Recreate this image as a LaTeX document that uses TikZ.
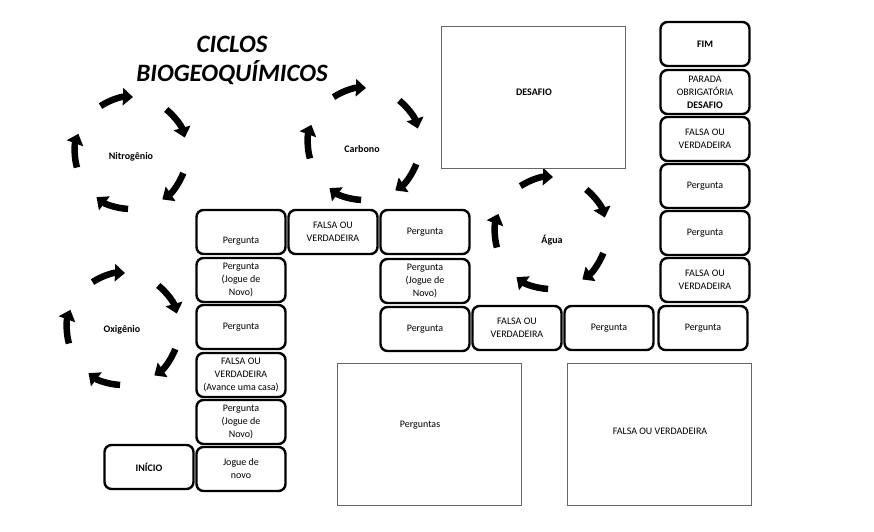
\documentclass[tikz,border=0pt]{standalone}
\usepackage{fontspec}
\setmainfont{Carlito}
\usetikzlibrary{arrows.meta,positioning}

\tikzset{
  casa/.style={draw,line width=2.4pt,rounded corners=7pt,minimum width=89pt,
    minimum height=44pt,align=center,inner sep=1pt,font=\fontsize{10}{13}\selectfont},
  quadro/.style={draw=black!60,line width=0.9pt,minimum width=184pt,minimum height=142pt},
  ciclo/.style={line width=6.5pt,-{Triangle[length=10pt,width=17pt]}},
  rotulo/.style={font=\fontsize{10}{12}\selectfont\bfseries}
}

\begin{document}
\begin{tikzpicture}[x=1pt,y=-1pt,font=\fontsize{10}{13}\selectfont]
  \useasboundingbox (0,0) rectangle (874,531);

  % titulo
  \node[align=center,font=\fontsize{25}{29}\selectfont\bfseries\itshape] (titulo) at (232,60)
    {CICLOS\\BIOGEOQUÍMICOS};

  % ciclos
  \foreach \cx/\cy/\lx/\ly/\nome/\t in {131/153/131/157/nitro/Nitrogênio,
      364/144/362/149/carb/Carbono, 551/233/552/240/agua/Água,
      123/329/122/330/oxi/Oxigênio} {
    \node[rotulo] (\nome) at (\lx,\ly) {\t};
    \foreach \a in {-123,-51,21,93,165}
      \draw[ciclo] ([shift={(\a:56)}]\cx,\cy) arc[start angle=\a,end angle=\a+35,radius=56];
  }

  % quadros
  \node[quadro] (desafio) at (533.5,97.5) {};
  \node[font=\fontsize{10}{12}\selectfont\bfseries] (desafiot) at (534,92) {DESAFIO};
  \node[quadro] (perguntas) at (429.5,434.5) {};
  \node (perguntast) at (420,425) {Perguntas};
  \node[quadro] (fv) at (659,434.5) {};
  \node (fvt) at (660,431) {FALSA OU VERDADEIRA};

  % casas do tabuleiro
  \node[casa,font=\fontsize{10}{13}\selectfont\bfseries] (inicio) at (149,467) {INÍCIO};
  \foreach \n/\x/\y/\t in {1/241/469/{Jogue de\\novo},
      2/241/422/{Pergunta\\(Jogue de\\Novo)},
      3/241/375/{FALSA OU\\VERDADEIRA\\(Avance uma casa)},
      4/241/327/Pergunta, 5/241/280/{Pergunta\\(Jogue de\\Novo)},
      6/241/232/{}, 7/333/232/{FALSA OU\\VERDADEIRA}, 8/425/232/Pergunta,
      9/425/281/{Pergunta\\(Jogue de\\Novo)}, 10/425/329/Pergunta,
      11/517/328/{FALSA OU\\VERDADEIRA}, 12/609/328/Pergunta, 13/703/328/Pergunta,
      14/705/280/{FALSA OU\\VERDADEIRA}, 15/705/233/Pergunta, 16/705/186/Pergunta,
      17/705/139/{FALSA OU\\VERDADEIRA}}
    \node[casa] (casa\n) at (\x,\y) {\t};
  \node (casa6t) at (241,241) {Pergunta};
  \node[casa] (parada) at (705,92) {PARADA\\OBRIGATÓRIA\\\textbf{DESAFIO}};
  \node[casa,font=\fontsize{10}{13}\selectfont\bfseries] (fim) at (705,44) {FIM};
\end{tikzpicture}
\end{document}
